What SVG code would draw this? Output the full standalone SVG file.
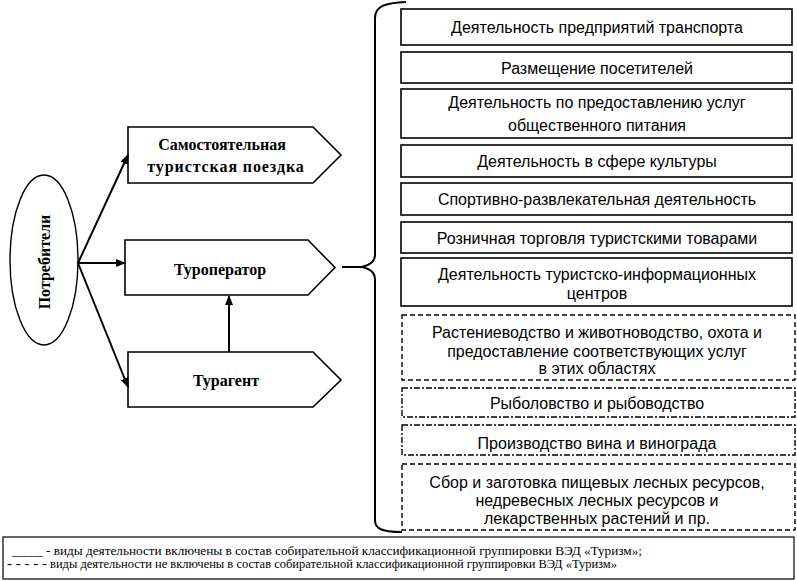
<svg xmlns="http://www.w3.org/2000/svg" width="797" height="581" viewBox="0 0 797 581">
<style>
.bx{fill:#fff;stroke:#000;stroke-width:1.6}
.sol{fill:#fff;stroke:#000;stroke-width:1.6}
.dsh{fill:#fff;stroke:#000;stroke-width:1.4;stroke-dasharray:5,3}
.dd{fill:#fff;stroke:#000;stroke-width:1.4;stroke-dasharray:6,2,2,2}
.lt{font-family:"Times New Roman","Liberation Serif",serif;font-weight:bold;font-size:16px;text-anchor:middle}
.rt{font-family:Arial,"Liberation Sans",sans-serif;font-size:16px;text-anchor:middle}
.lg{font-family:"Liberation Serif",serif;font-size:12px}
.ln{stroke:#000;stroke-width:2;fill:none}
</style>
<defs>
<marker id="ah" markerWidth="10" markerHeight="8" refX="9" refY="4" orient="auto" markerUnits="userSpaceOnUse">
<path d="M0,0 L10,4 L0,8 Z" fill="#000"/>
</marker>
</defs>
<rect width="797" height="581" fill="#fff"/>

<g id="consumers">
<ellipse cx="44" cy="260" rx="34" ry="85" fill="#fff" stroke="#000" stroke-width="1.4"/>
<text class="lt" font-size="18" transform="translate(50,262) rotate(-90)">Потребители</text>
</g>

<g id="self-trip">
<path class="bx" d="M128,127 L313,127 L341,155 L313,183 L128,183 Z"/>
<text class="lt" x="222" y="150">Самостоятельная</text>
<text class="lt" x="226" y="172" letter-spacing="0.9">туристская поездка</text>
</g>

<g id="touroperator">
<path class="bx" d="M125,240 L308,240 L335,267.5 L308,295 L125,295 Z"/>
<text class="lt" x="220" y="275">Туроператор</text>
</g>

<g id="touragent">
<path class="bx" d="M128,352 L313,352 L341,380 L313,407 L128,407 Z"/>
<text class="lt" x="226" y="386">Турагент</text>
</g>

<g id="connectors">
<line class="ln" x1="78" y1="263" x2="128" y2="155" marker-end="url(#ah)"/>
<line class="ln" x1="78" y1="263" x2="125" y2="263" stroke-width="3" marker-end="url(#ah)"/>
<line class="ln" x1="78" y1="263" x2="128" y2="387" marker-end="url(#ah)"/>
<line class="ln" x1="229" y1="352" x2="229" y2="296" marker-end="url(#ah)"/>
<line class="ln" x1="342" y1="267" x2="362" y2="267" stroke-width="3"/>
<path class="ln" stroke-width="3" d="M406,2 C385,3 375,6 375,18 L375,255 C375,262 370,265 362,267 C370,269 375,272 375,280 L375,520 C375,528 380,532 402,532"/>
</g>

<g id="act1"><rect class="sol" x="401" y="9" width="391" height="36"/><text class="rt" x="597" y="33">Деятельность предприятий транспорта</text></g>
<g id="act2"><rect class="sol" x="401" y="52" width="391" height="31"/><text class="rt" x="597" y="74">Размещение посетителей</text></g>
<g id="act3"><rect class="sol" x="401" y="89" width="391" height="49"/><text class="rt" x="597" y="108">Деятельность по предоставлению услуг</text><text class="rt" x="597" y="131">общественного питания</text></g>
<g id="act4"><rect class="sol" x="401" y="145" width="391" height="32"/><text class="rt" x="597" y="167">Деятельность в сфере культуры</text></g>
<g id="act5"><rect class="sol" x="401" y="183" width="391" height="32"/><text class="rt" x="597" y="205">Спортивно-развлекательная деятельность</text></g>
<g id="act6"><rect class="sol" x="401" y="222" width="391" height="31"/><text class="rt" x="597" y="244">Розничная торговля туристскими товарами</text></g>
<g id="act7"><rect class="sol" x="401" y="258" width="391" height="48"/><text class="rt" x="597" y="280">Деятельность туристско-информационных</text><text class="rt" x="597" y="299">центров</text></g>
<g id="act8"><rect class="dsh" x="402" y="315" width="393" height="65"/><text class="rt" x="597" y="338">Растениеводство и животноводство, охота и</text><text class="rt" x="597" y="357">предоставление соответствующих услуг</text><text class="rt" x="597" y="374">в этих областях</text></g>
<g id="act9"><rect class="dd" x="402" y="388" width="393" height="29"/><text class="rt" x="597" y="409">Рыболовство и рыбоводство</text></g>
<g id="act10"><rect class="dd" x="402" y="425" width="393" height="30"/><text class="rt" x="597" y="449">Производство вина и винограда</text></g>
<g id="act11"><rect class="dsh" x="402" y="464" width="393" height="66"/><text class="rt" x="597" y="488">Сбор и заготовка пищевых лесных ресурсов,</text><text class="rt" x="597" y="506">недревесных лесных ресурсов и</text><text class="rt" x="597" y="524">лекарственных растений и пр.</text></g>

<g id="legend">
<rect x="3" y="537" width="791" height="42" fill="#fff" stroke="#000" stroke-width="1.2"/>
<text class="lg" x="12" y="555" textLength="31" lengthAdjust="spacingAndGlyphs">______</text>
<text class="lg" x="46" y="555" textLength="596" lengthAdjust="spacingAndGlyphs">- виды деятельности включены в состав собирательной классификационной группировки ВЭД «Туризм»;</text>
<text class="lg" x="7" y="568" font-weight="bold" textLength="40" lengthAdjust="spacingAndGlyphs">- - - - -</text>
<text class="lg" x="50" y="568" textLength="567" lengthAdjust="spacingAndGlyphs">виды деятельности не включены в состав собирательной классификационной группировки ВЭД «Туризм»</text>
</g>
</svg>
